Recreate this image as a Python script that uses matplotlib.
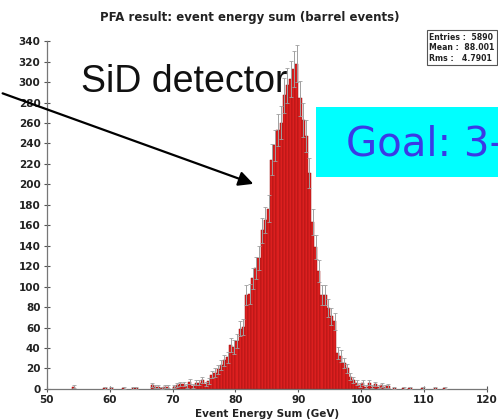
import numpy as np
import matplotlib
matplotlib.use("Agg")
import matplotlib.pyplot as plt
from matplotlib.patches import Rectangle, FancyArrowPatch

# histogram contents: lower bin edge (GeV, 0.5 GeV bins) and entries
bin_starts = [54.0, 59.0, 60.0, 62.0, 63.5, 64.0,
              66.5, 67.0, 67.5, 68.0, 68.5, 69.0,
              70.0, 70.5, 71.0, 71.5, 72.0, 72.5, 73.0, 73.5, 74.0, 74.5,
              75.0, 75.5, 76.0, 76.5, 77.0, 77.5, 78.0, 78.5, 79.0, 79.5,
              80.0, 80.5, 81.0, 81.5, 82.0, 82.5, 83.0, 83.5, 84.0, 84.5,
              85.0, 85.5, 86.0, 86.5, 87.0, 87.5, 88.0, 88.5, 89.0, 89.5,
              90.0, 90.5, 91.0, 91.5, 92.0, 92.5, 93.0, 93.5, 94.0, 94.5,
              95.0, 95.5, 96.0, 96.5, 97.0, 97.5, 98.0, 98.5, 99.0, 99.5,
              100.0, 100.5, 101.0, 101.5, 102.0, 102.5, 103.0, 103.5, 104.0,
              105.0, 106.5, 107.5, 109.5, 111.5, 113.0]
counts = [2, 1, 1, 1, 1, 1,
          4, 2, 2, 1, 2, 2,
          2, 4, 5, 5, 3, 7, 3, 6, 6, 9,
          5, 8, 14, 16, 19, 23, 28, 31, 43, 41,
          47, 59, 61, 92, 93, 108, 118, 128, 155, 165,
          176, 224, 238, 253, 260, 287, 297, 303, 313, 318,
          284, 263, 247, 211, 163, 139, 115, 92, 92, 79,
          71, 66, 35, 32, 25, 20, 12, 9, 6, 4,
          6, 2, 6, 2, 5, 2, 4, 2, 3,
          1, 1, 1, 1, 1, 1]
bin_width = 0.5

x_ticks = [50, 60, 70, 80, 90, 100, 110, 120]
y_ticks = list(range(0, 341, 20))

stats_lines = ["Entries :  5890", "Mean :  88.001", "Rms :   4.7901"]

fig = plt.figure(figsize=(4.98, 4.2), dpi=100)
ax = fig.add_axes([0.094, 0.074, 0.884, 0.828])

edges = np.array(bin_starts)
vals = np.array(counts)

# bars
ax.bar(edges, vals, width=bin_width, align="edge", color="#dc1f1f",
       edgecolor="#9a1010", linewidth=0.35, zorder=2)
# poisson error bars
ax.errorbar(edges + bin_width / 2, vals, yerr=np.sqrt(vals), fmt="none",
            ecolor="#a0a0a0", elinewidth=0.7, capsize=1.6, capthick=0.6,
            zorder=3)

ax.set_xlim(50, 120)
ax.set_ylim(0, 340)
ax.set_xticks(x_ticks)
ax.set_yticks(y_ticks)
for s in ["top", "right"]:
    ax.spines[s].set_visible(False)
for s in ["left", "bottom"]:
    ax.spines[s].set_color("#777777")
    ax.spines[s].set_linewidth(0.9)
ax.tick_params(direction="inout", length=5, width=0.8, color="#555555",
               labelsize=7.5, pad=2)
for lab in ax.get_xticklabels() + ax.get_yticklabels():
    lab.set_fontweight("bold")
    lab.set_color("#222222")

ax.set_xlabel("Event Energy Sum (GeV)", fontsize=7.5, fontweight="bold",
              color="#222222", labelpad=3)
fig.text(0.502, 0.958, "PFA result: event energy sum (barrel events)",
         ha="center", va="center", fontsize=8.5, fontweight="bold",
         color="#222222")

# statistics box
fig.text(0.862, 0.922, "\n".join(stats_lines), ha="left", va="top",
         fontsize=5.6, fontweight="bold", color="#222222", linespacing=1.2,
         bbox=dict(boxstyle="square,pad=0.3", facecolor="white",
                   edgecolor="#555555", linewidth=0.8))

# overlay from the slide
fig.text(0.163, 0.782, "SiD detector", ha="left", va="baseline",
         fontsize=27, family="Liberation Sans", color="#111111")
arrow = FancyArrowPatch((0.0, 0.780), (0.514, 0.560),
                        transform=fig.transFigure, arrowstyle="-|>",
                        mutation_scale=22, linewidth=1.6, color="black")
fig.add_artist(arrow)

fig.add_artist(Rectangle((0.635, 0.579), 0.40, 0.167,
                         transform=fig.transFigure, facecolor="#00ffff",
                         edgecolor="none"))
fig.text(0.695, 0.655, "Goal: 3-", ha="left", va="center", fontsize=29,
         color="#3a3ae6")

fig.savefig("out.png", dpi=100)
